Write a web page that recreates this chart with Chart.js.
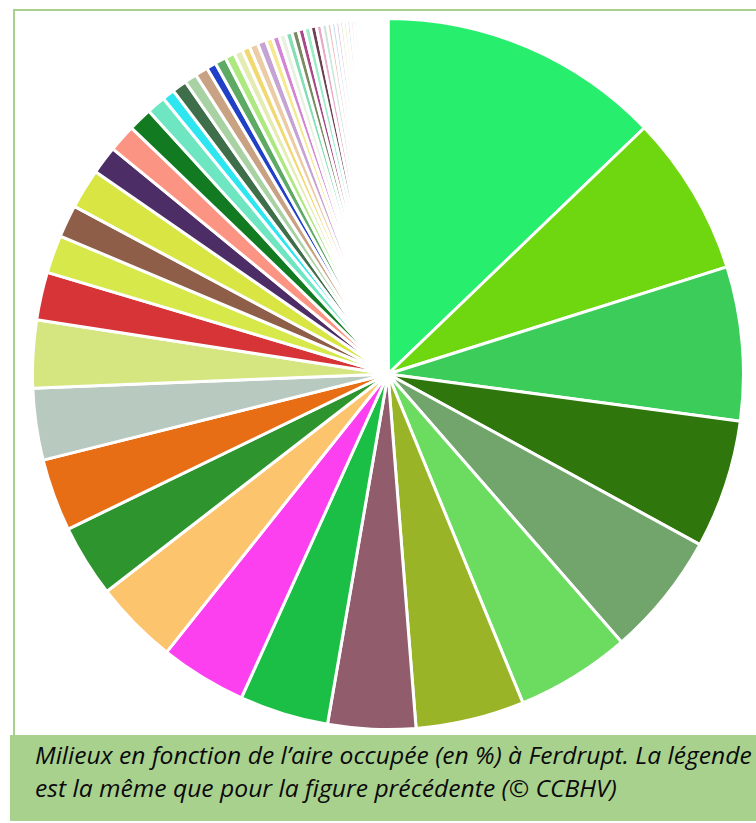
<!DOCTYPE html>
<html>
<head>
<meta charset="utf-8">
<script src="https://cdn.jsdelivr.net/npm/chart.js@4.4.1/dist/chart.umd.min.js"></script>
<style>
  html, body { margin: 0; padding: 0; background: #ffffff; width: 756px; height: 823px; overflow: hidden; }
  #frame { position: absolute; left: 13px; top: 9px; width: 800px; height: 724px; border: 2px solid #a9d18e; border-right: none; }
  #wrap { position: absolute; left: 31px; top: 17px; width: 714px; height: 714px; }
  #caption { position: absolute; left: 10px; top: 735px; width: 746px; height: 86px; background: #a9d18e; }
  .line { position: absolute; left: 25px; white-space: nowrap; font-family: "Open Sans", "Noto Sans", sans-serif; font-style: italic; font-size: 23px; color: #0a0a0a; transform-origin: 0 50%; }
  #l1 { top: 4px; }
  #l2 { top: 37px; }
</style>
</head>
<body>
<div id="frame"></div>
<div id="wrap"><canvas id="c" width="714" height="714"></canvas></div>
<div id="caption">
  <span class="line" id="l1">Milieux en fonction de l’aire occupée (en %) à Ferdrupt. La légende</span>
  <span class="line" id="l2">est la même que pour la figure précédente (© CCBHV)</span>
</div>
<script>
// Share of area (%) per habitat type, in the order drawn (clockwise from the top)
const categories = [
  "Milieu 1","Milieu 2","Milieu 3","Milieu 4","Milieu 5","Milieu 6","Milieu 7","Milieu 8","Milieu 9","Milieu 10",
  "Milieu 11","Milieu 12","Milieu 13","Milieu 14","Milieu 15","Milieu 16","Milieu 17","Milieu 18","Milieu 19","Milieu 20",
  "Milieu 21","Milieu 22","Milieu 23","Milieu 24","Milieu 25","Milieu 26","Milieu 27","Milieu 28","Milieu 29","Milieu 30",
  "Milieu 31","Milieu 32","Milieu 33","Milieu 34","Milieu 35","Milieu 36","Milieu 37","Milieu 38","Milieu 39","Milieu 40",
  "Milieu 41","Milieu 42","Milieu 43","Milieu 44","Milieu 45","Milieu 46","Milieu 47","Milieu 48","Milieu 49","Milieu 50",
  "Milieu 51","Milieu 52","Milieu 53","Milieu 54","Milieu 55","Milieu 56","Milieu 57","Milieu 58","Milieu 59","Milieu 60",
  "Milieu 61","Milieu 62","Milieu 63","Milieu 64"
];
const areaShare = [
  12.78, 7.28, 6.97, 5.83, 5.61, 5.19, 4.92, 3.97, 4.03, 3.92,
  3.81, 3.28, 3.28, 3.25, 3.06, 2.17, 1.72, 1.47, 1.81, 1.28,
  1.25, 1.08, 0.86, 0.56, 0.67, 0.56, 0.58, 0.44, 0.50, 0.44,
  0.39, 0.36, 0.39, 0.39, 0.31, 0.31, 0.30, 0.30, 0.29, 0.28,
  0.28, 0.27, 0.25, 0.24, 0.20, 0.19, 0.18, 0.17, 0.16, 0.16,
  0.15, 0.15, 0.14, 0.14, 0.13, 0.13, 0.12, 0.12, 0.11, 0.11,
  0.10, 0.10, 0.09, 0.09
];
const sliceColors = [
  "#28ee6e","#6fd70f","#3ccc5a","#2f760c","#72a56c","#6cdc60","#9ab428","#915c6c","#1cbf45","#fc40f0",
  "#fcc46c","#2e952e","#e86e16","#b8c9c0","#d5e680","#d73438","#d6e84a","#8e5e48","#d9e542","#4d2d66",
  "#fc9484","#127b22","#6ee6c2","#2ee6f0","#3e6e4a","#a8d2a4","#c8a282","#2040c8","#5caa64","#aee880",
  "#e4ecb4","#f2d870","#eccca4","#c4a4d4","#f4e890","#d484d4","#e8f0e0","#84e0b4","#7a8a60","#a84888",
  "#9cecc8","#6c4050","#e8a8c8","#c8e8d8","#f0c0c0","#c0e0f0","#e0c0e0","#d0f0c0","#f0e0b0","#b0d0e0",
  "#f0c0d8","#c8f0e0","#e0d0f0","#f0f0c0","#c0d8f0","#e8c8b0","#d8f0d0","#f0d0e8","#c0f0f0","#e8e0c0",
  "#d0c0e8","#c8e8c0","#f0c8c8","#d8d8f0"
];

new Chart(document.getElementById('c'), {
  type: 'pie',
  data: {
    labels: categories,
    datasets: [{
      data: areaShare,
      backgroundColor: sliceColors,
      borderColor: '#ffffff',
      borderWidth: 3
    }]
  },
  options: {
    responsive: false,
    animation: false,
    layout: { padding: 0 },
    plugins: { legend: { display: false }, tooltip: { enabled: false } }
  }
});

function fitCaption() {
  const l1 = document.getElementById('l1');
  const l2 = document.getElementById('l2');
  const s = 717 / l1.offsetWidth;
  l1.style.transform = 'scaleX(' + s + ')';
  l2.style.transform = 'scaleX(' + s + ')';
}
if (document.fonts && document.fonts.ready) { document.fonts.ready.then(fitCaption); } else { fitCaption(); }
fitCaption();
</script>
</body>
</html>
